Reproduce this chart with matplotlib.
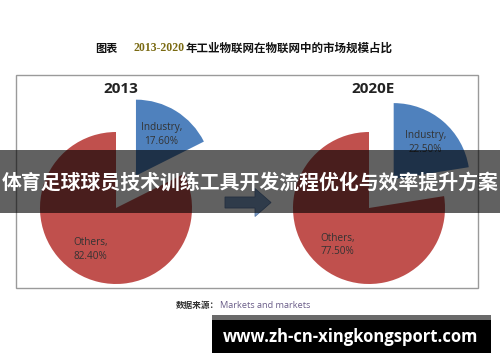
import matplotlib.pyplot as plt
from matplotlib.patches import Rectangle, FancyArrow

W, H = 500, 362

years = ["2013", "2020E"]
segments = ["Industry", "Others"]
shares = [[17.6, 82.4], [22.5, 77.5]]

title_head = "图表"
title_years = "2013-2020"
title_tail = "年工业物联网在物联网中的市场规模占比"
banner = "体育足球球员技术训练工具开发流程优化与效率提升方案"
source_head = "数据来源："
source_tail = "Markets and markets"
site = "www.zh-cn-xingkongsport.com"

CJK = ["Noto Sans CJK SC", "DejaVu Sans"]
BLUE = "#4F81BD"
RED = "#C0504D"


def Y(py):
    return H - py


fig = plt.figure(figsize=(W / 100, H / 100), dpi=100)
ax = fig.add_axes([0, 0, 1, 1])

# chart frame
ax.add_patch(Rectangle((16, Y(288)), 462, 213, fill=False, ec="#9a9a9a", lw=1.0, zorder=1))

R = 76
centers = [(116, Y(208)), (369, Y(208))]
title_x = [121, 373]
for year, vals, c, tx in zip(years, shares, centers, title_x):
    labels = [f"{s},\n{v:.2f}%" for s, v in zip(segments, vals)]
    wedges, texts = ax.pie(vals, labels=labels, colors=[BLUE, RED], startangle=90,
                           counterclock=False, explode=[0.5 * R, 0], radius=R, center=c,
                           labeldistance=0.64, frame=True,
                           textprops=dict(fontsize=7.2, color="#333333", ha="center",
                                          va="center", family="Open Sans",
                                          linespacing=1.35))
    for w in wedges:
        w.set_zorder(2)
    for t in texts:
        t.set_zorder(3)
        t.set_horizontalalignment("center")
    ax.text(tx, Y(89), year, ha="center", va="center", fontsize=11, fontweight="bold",
            color="#222222", family="Open Sans", zorder=3)

# arrow between the pies
ax.add_patch(FancyArrow(225, Y(202.5), 30, 0, width=11, head_width=28, head_length=16,
                        length_includes_head=False, fc="#7d9cc4", ec="#5a7aa6", lw=0.6, zorder=2))

# top title
ax.text(95, Y(48), title_head, ha="left", va="center", fontsize=8, fontweight="bold",
        family=CJK, color="#111111")
ax.text(133, Y(48), title_years, ha="left", va="center", fontsize=8.5, fontweight="bold",
        family="Liberation Serif", color="#7a6a12")
ax.text(186, Y(48), title_tail, ha="left", va="center", fontsize=8.3, fontweight="bold",
        family=CJK, color="#111111")

# source line
ax.text(219, Y(305), source_head, ha="right", va="center", fontsize=6.2, fontweight="bold",
        family=CJK, color="#333333")
ax.text(220, Y(305), source_tail, ha="left", va="center", fontsize=6.6,
        family="Open Sans", color="#6a5d88")

# dark banner
ax.add_patch(Rectangle((0, Y(213)), W, 63, fc="black", alpha=0.62, ec="none", zorder=5))
ax.text(W / 2, Y(182), banner, ha="center", va="center", fontsize=14.3, fontweight="bold",
        family=CJK, color="white", zorder=6)

# site box
ax.add_patch(Rectangle((212, Y(353)), 279, 38, fc="black", ec="none", zorder=5))
ax.add_patch(Rectangle((212, Y(320)), 279, 5, fc="#6a6a6a", ec="none", zorder=6))
ax.text(351, Y(337), site, ha="center", va="center", fontsize=12, fontweight="bold",
        family="Open Sans", color="white", zorder=7)

ax.set_xlim(0, W)
ax.set_ylim(0, H)
ax.set_aspect("auto")
ax.axis("off")

fig.savefig("out.png", dpi=100)
